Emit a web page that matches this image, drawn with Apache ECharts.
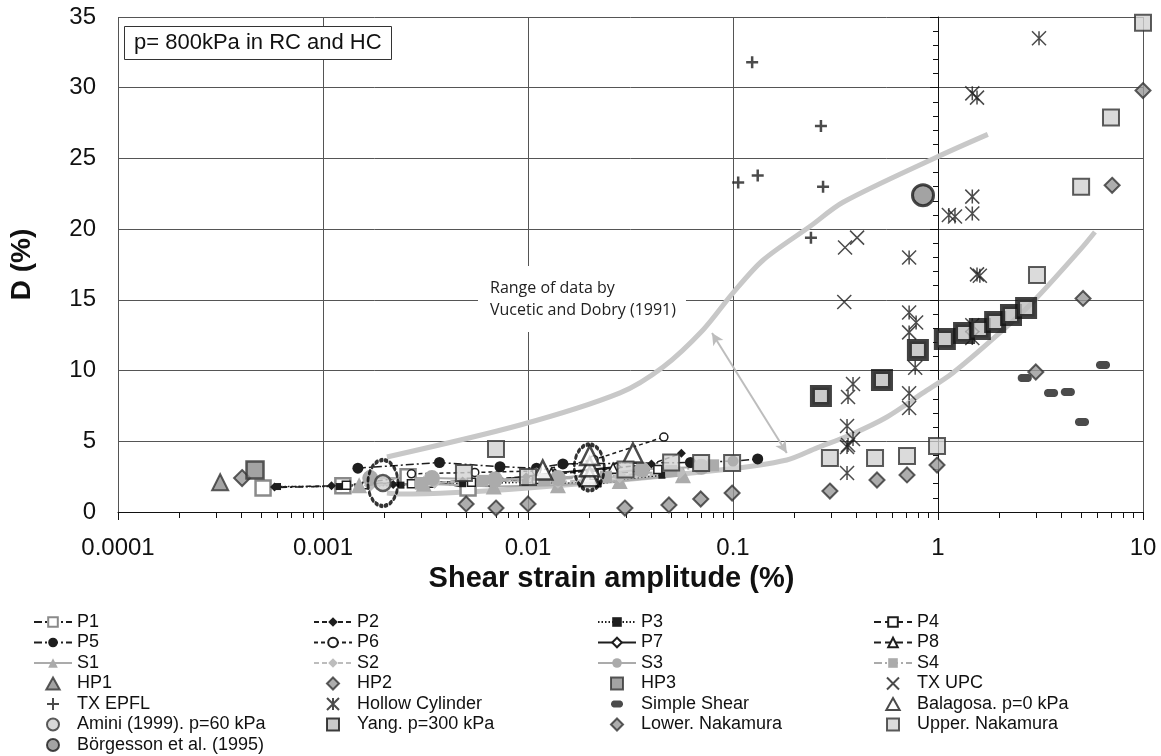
<!DOCTYPE html>
<html><head><meta charset="utf-8">
<script src="https://cdn.jsdelivr.net/npm/echarts@6/dist/echarts.min.js"></script>
<style>html,body{margin:0;padding:0;background:#fff}#c{width:1161px;height:756px}</style>
</head><body><div id="c"></div>
<script>
const xTickLabels = ['0.0001','0.001','0.01','0.1','1','10'];
const vdUpper = [[0.00205,3.89],[0.00915,6.15],[0.0281,8.42],[0.0456,10.25],[0.0714,12.87],[0.1,15.49],[0.14,17.8],[0.238,20.2],[0.344,21.9],[0.989,25.1],[1.75,26.7]];
const vdLower = [[0.00205,1.34],[0.00238,1.27],[0.01,1.7],[0.0865,2.97],[0.183,3.68],[0.257,4.53],[0.373,5.45],[0.564,6.72],[0.845,8.42],[1.18,9.83],[2.0,12.66],[2.9,14.85],[4.93,18.53],[5.83,19.8]];
const arrowEnds = [[0.079,12.66],[0.183,4.17]];
const P1 = [[0.00051,1.7],[0.00125,1.85],[0.0026,2.5],[0.0051,1.7]];
const P2 = [[0.00058,1.77],[0.0011,1.85],[0.0022,1.95],[0.0048,2.2],[0.0098,2.5],[0.02,2.9],[0.04,3.4],[0.056,4.15]];
const P3 = [[0.0006,1.8],[0.0012,1.8],[0.0024,1.9],[0.0048,2.0],[0.0097,2.1],[0.022,2.0],[0.045,2.6]];
const P4 = [[0.0013,1.9],[0.0027,2.0],[0.0053,2.1],[0.011,2.3],[0.021,2.6],[0.043,3.0]];
const P5 = [[0.00148,3.1],[0.0037,3.5],[0.0073,3.2],[0.011,3.1],[0.0148,3.4],[0.062,3.5],[0.1,3.6],[0.132,3.75]];
const P6 = [[0.0027,2.7],[0.0055,2.8],[0.011,2.9],[0.021,3.7],[0.046,5.3]];
const P7 = [[0.0017,2.0],[0.0034,2.1],[0.0068,2.2],[0.0135,2.75],[0.027,3.2]];
const P8 = [[0.0016,2.0],[0.0033,2.1],[0.0066,2.2],[0.013,2.75],[0.026,3.1]];
const S1 = [[0.0015,1.9],[0.0031,2.0],[0.0068,1.8],[0.014,1.9],[0.028,2.2],[0.057,2.6]];
const S2 = [[0.0017,1.9],[0.0035,2.1],[0.007,2.2],[0.014,2.1],[0.028,2.5],[0.055,2.8]];
const S3 = [[0.0017,2.4],[0.0034,2.4],[0.0069,2.3],[0.014,2.4],[0.036,3.0],[0.07,3.2]];
const S4 = [[0.003,2.0],[0.006,2.2],[0.012,2.3],[0.024,2.5],[0.05,2.9],[0.08,3.3]];
const HP1 = [[0.000315,2.1]];
const HP2 = [[0.000403,2.4]];
const HP3 = [[0.000466,2.97]];
const TXUPC = [[0.352,18.7],[0.403,19.4],[0.349,14.85]];
const TXEPFL = [[0.124,31.8],[0.2685,27.3],[0.106,23.3],[0.132,23.8],[0.275,23.0],[0.24,19.4]];
const hollowCyl = [[3.11,33.5],[1.47,29.6],[1.55,29.3],[1.47,22.3],[1.13,21.0],[1.21,20.9],[1.47,21.1],[0.723,18.0],[1.55,16.8],[1.6,16.7],[0.723,14.1],[0.782,13.4],[0.723,12.7],[1.47,13.2],[1.47,12.3],[0.774,10.2],[0.385,9.05],[0.364,8.13],[0.723,8.4],[0.723,7.35],[0.36,6.08],[0.385,5.16],[0.364,4.74],[0.36,4.6],[0.36,2.76]];
const simpleShear = [[2.65,9.48],[3.56,8.42],[4.3,8.49],[5.04,6.36],[6.38,10.4]];
const balagosa = [[0.0118,2.97],[0.02,2.5],[0.02,3.2],[0.02,4.0],[0.0325,4.17]];
const amini = [[0.00196,2.05]];
const yang = [[0.2685,8.2],[0.533,9.33],[0.798,11.46],[1.08,12.23],[1.34,12.66],[1.6,12.94],[1.9,13.44],[2.27,13.93],[2.69,14.43]];
const lowerNak = [[0.00499,0.57],[0.00698,0.28],[0.01,0.57],[0.0297,0.28],[0.0487,0.5],[0.0696,0.92],[0.099,1.34],[0.297,1.48],[0.504,2.26],[0.706,2.62],[0.989,3.32],[3.0,9.9],[5.1,15.1],[7.07,23.1],[10,29.8]];
const upperNak = [[0.00487,2.76],[0.00698,4.46],[0.01,2.48],[0.0299,3.0],[0.0499,3.5],[0.0699,3.47],[0.099,3.47],[0.297,3.82],[0.493,3.82],[0.706,3.96],[0.989,4.67],[3.04,16.76],[4.99,23.0],[6.98,27.9],[10,34.6]];
const borgesson = [[0.845,22.4]];
const ellipses = [[0.00196,2.05],[0.0199,3.15]];

const F = 'Liberation Sans, Arial, sans-serif';
const dk = '#1e1e1e';
const TRI = 'path://M5,0L10,9L0,9Z';
const DIA = 'path://M5,0L10,5L5,10L0,5Z';
const SQ = 'path://M0,0L10,0L10,10L0,10Z';
const CIRC = 'path://M0,5A5,5,0,1,1,10,5A5,5,0,1,1,0,5Z';
const PILL = 'path://M3,0L11,0L13,1L14,3L14,5L13,7L11,8L3,8L1,7L0,5L0,3L1,1Z';
const PILL_LEG = 'path://M-6,-3M20,11M3,0L11,0L13,1L14,3L14,5L13,7L11,8L3,8L1,7L0,5L0,3L1,1Z';
const PLUS = 'path://M5,0L5,10M0,5L10,5';
const CROSS = 'path://M0,0L10,10M10,0L0,10';
const STAR = 'path://M0,0L10,10M10,0L0,10M5,0L5,10';

function ln(name, data, symbol, size, item, lineType, lineColor, lw) {
  return {name, type:'line', data, symbol, symbolSize:size, showSymbol:true, itemStyle:item,
    lineStyle:{color:lineColor||dk, width:lw||1.5, type:lineType}, z:3, animation:false};
}
function sc(name, data, symbol, size, item, z) {
  return {name, type:'scatter', data, symbol, symbolSize:size, itemStyle:item, z:z||4, animation:false};
}

const series = [
  {type:'line', data:vdUpper, symbol:'none', smooth:0.3, lineStyle:{color:'#c8c8c8', width:5}, z:1, animation:false, silent:true,
   markLine:{silent:true, symbol:['arrow','arrow'], symbolSize:[9,12], label:{show:false},
     lineStyle:{color:'#bdbdbd', width:2, type:'solid'},
     data:[[{coord:arrowEnds[0]},{coord:arrowEnds[1]}]]}},
  {type:'line', data:vdLower, symbol:'none', smooth:0.3, lineStyle:{color:'#c8c8c8', width:5}, z:1, animation:false, silent:true},
  ln('P1', P1, 'rect', 15, {color:'#fff', borderColor:'#8a8a8a', borderWidth:2.5}, [8,3,2,3]),
  ln('P2', P2, 'diamond', 9, {color:dk}, [5,3]),
  ln('P3', P3, 'rect', 7, {color:dk}, [1.5,2]),
  ln('P4', P4, 'rect', 8, {color:'#fff', borderColor:dk, borderWidth:1.5}, [7,4]),
  ln('P5', P5, 'circle', 11, {color:dk}, [8,3,2,3]),
  ln('P6', P6, 'circle', 8, {color:'#fff', borderColor:dk, borderWidth:1.5}, [4,3]),
  ln('P7', P7, 'diamond', 8, {color:'#fff', borderColor:dk, borderWidth:1.5}, 'solid'),
  ln('P8', P8, 'triangle', 10, {color:'#fff', borderColor:dk, borderWidth:1.5}, [7,4]),
  ln('S1', S1, 'triangle', 16, {color:'#ababab'}, 'solid', '#ababab', 2),
  ln('S2', S2, 'diamond', 13, {color:'#bdbdbd'}, [5,3], '#bdbdbd', 2),
  ln('S3', S3, 'circle', 16, {color:'#ababab'}, 'solid', '#ababab', 2),
  ln('S4', S4, 'rect', 12, {color:'#ababab'}, [8,3,2,3], '#ababab', 2),
  sc('HP1', HP1, TRI, 16, {color:'#8c8c8c', borderColor:'#333', borderWidth:2}),
  sc('HP2', HP2, DIA, 16, {color:'#999', borderColor:'#333', borderWidth:2}),
  sc('HP3', HP3, SQ, 17, {color:'#8c8c8c', borderColor:'#333', borderWidth:2.5}),
  sc('TX UPC', TXUPC, CROSS, 14, {color:'transparent', borderColor:dk, borderWidth:1.5}),
  sc('TX EPFL', TXEPFL, PLUS, 12, {color:'transparent', borderColor:dk, borderWidth:2.5}),
  sc('Hollow Cylinder', hollowCyl, STAR, 14, {color:'transparent', borderColor:dk, borderWidth:1.5}),
  sc('Simple Shear', simpleShear, PILL, [14,8], {color:dk}),
  sc('Balagosa. p=0 kPa', balagosa, TRI, 19, {color:'#fff', borderColor:dk, borderWidth:2.5}),
  sc('Amini (1999). p=60 kPa', amini, CIRC, 16, {color:'#cfcfcf', borderColor:'#333', borderWidth:2.5}),
  sc('Yang. p=300 kPa', yang, SQ, 17, {color:'#bdbdbd', borderColor:'#111', borderWidth:5}),
  sc('Lower. Nakamura', lowerNak, DIA, 15, {color:'#999', borderColor:'#333', borderWidth:2}),
  sc('Upper. Nakamura', upperNak, SQ, 16, {color:'#d2d2d2', borderColor:'#333', borderWidth:2}),
  sc('Börgesson et al. (1995)', borgesson, CIRC, 21, {color:'#8c8c8c', borderColor:'#1a1a1a', borderWidth:3}),
  {type:'scatter', data:ellipses, symbol:'circle', symbolSize:[30,46], silent:true, z:6, animation:false,
   itemStyle:{color:'transparent', borderColor:'#000', borderWidth:3.5, borderType:[2,4], borderCap:'round'}}
];

const cols = [
  ['P1','P5','S1','HP1','TX EPFL','Amini (1999). p=60 kPa','Börgesson et al. (1995)'],
  ['P2','P6','S2','HP2','Hollow Cylinder','Yang. p=300 kPa'],
  ['P3','P7','S3','HP3',{name:'Simple Shear', icon:PILL_LEG},'Lower. Nakamura'],
  ['P4','P8','S4','TX UPC','Balagosa. p=0 kPa','Upper. Nakamura']
];
const colLeft = [33, 313, 597, 873];
const legends = cols.map((names, i) => ({
  data: names, orient:'vertical', left: colLeft[i], top: 612, itemWidth: 38, itemHeight: 12, itemGap: 0.5,
  selectedMode:false, padding:0,
  textStyle:{fontFamily:F, fontSize:18, color:'#111', lineHeight:20}
}));

const minorVals = [];
for (let d = -4; d < 1; d++) for (let k = 2; k <= 9; k++) minorVals.push(Math.log10(k) + d);

const chart = echarts.init(document.getElementById('c'), null, {renderer:'canvas'});
chart.setOption({
  animation:false,
  backgroundColor:'#fff',
  title:{text:'p= 800kPa in RC and HC', left:124, top:26, padding:[6,10,6,10], borderColor:'#333', borderWidth:1,
    backgroundColor:'#fff', textStyle:{fontFamily:F, fontSize:22, fontWeight:'normal', color:'#111'}},
  grid:{left:118, right:18, top:17, bottom:244, containLabel:false},
  xAxis:[{type:'log', min:0.0001, max:10, logBase:10, position:'bottom',
    name:'Shear strain amplitude (%)', nameLocation:'middle', nameGap:50,
    nameTextStyle:{fontFamily:F, fontSize:29, fontWeight:'bold', color:'#111', padding:[0,38,0,0]},
    axisLine:{show:true, lineStyle:{color:'#111', width:1}},
    axisTick:{show:true, inside:false, length:8, lineStyle:{color:'#111'}},
    minorTick:{show:false},
    axisLabel:{fontFamily:F, fontSize:24, color:'#111', margin:24,
      formatter:v => xTickLabels[Math.round(Math.log10(v)) + 4]},
    splitLine:{show:true, lineStyle:{color:'#555', width:1}}},
   {type:'value', min:-4, max:1, position:'bottom', gridIndex:0,
    axisLine:{show:false}, axisLabel:{show:false}, splitLine:{show:false},
    axisTick:{show:true, inside:false, length:6, customValues:minorVals, lineStyle:{color:'#111'}}}],
  yAxis:{type:'value', min:0, max:35, interval:5,
    name:'D (%)', nameLocation:'middle', nameGap:82,
    nameTextStyle:{fontFamily:F, fontSize:28, fontWeight:'bold', color:'#111'},
    axisLine:{show:true, lineStyle:{color:'#111', width:1}},
    axisTick:{show:true, inside:false, length:8, lineStyle:{color:'#111'}},
    minorTick:{show:true, splitNumber:5, length:5, lineStyle:{color:'#111'}},
    axisLabel:{fontFamily:F, fontSize:24, color:'#111', margin:22},
    splitLine:{show:true, lineStyle:{color:'#555', width:1}}},
  legend: legends,
  graphic:[{type:'text', left:478, top:266, z:10,
    style:{text:'Range of data by\nVucetic and Dobry (1991)', fontFamily:'Open Sans, sans-serif', fontSize:16,
      lineHeight:22, fill:'#222', backgroundColor:'#fff', padding:[11,10,11,12]}}],
  series
});
</script></body></html>
